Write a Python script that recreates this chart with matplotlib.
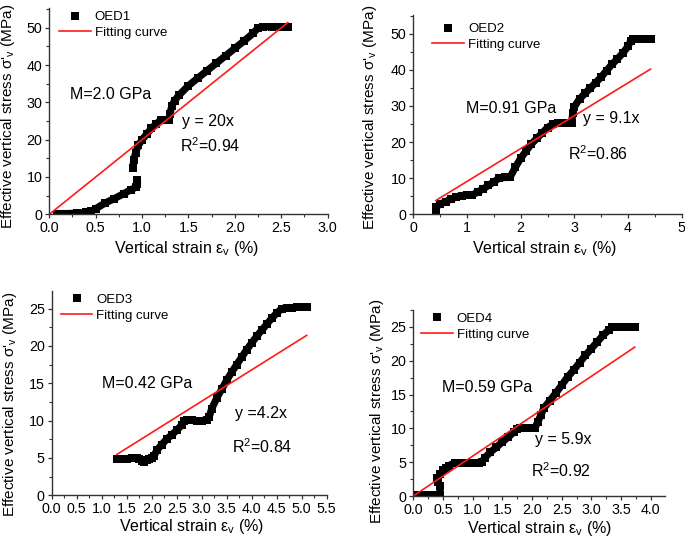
import numpy as np
import matplotlib
matplotlib.use("Agg")
import matplotlib.pyplot as plt
from matplotlib.ticker import MultipleLocator

plt.rcParams['font.family'] = ['Liberation Sans', 'DejaVu Sans']
plt.rcParams['mathtext.fontset'] = 'custom'
plt.rcParams['mathtext.rm'] = 'Liberation Sans'

nan = np.nan
# ---------------- data ----------------
x1 = [0.08, 0.2, 0.3, 0.4, 0.45, 0.5, 0.6, 0.7, 0.8, 0.88, 0.93, 0.95, 0.95, nan,
      0.9, 0.91, 0.93, 0.96, 1.0, 1.05, 1.1, 1.15, 1.2, 1.25, 1.29, 1.3, 1.32, 1.35,
      1.4, 1.5, 1.6, 1.7, 1.8, 1.9, 2.0, 2.1, 2.2, 2.25, 2.3, 2.4, 2.5, 2.57]
y1 = [0.2, 0.2, 0.3, 0.5, 0.8, 1.5, 3.0, 4.2, 5.5, 6.6, 7.2, 8.0, 9.2, nan,
      12.5, 14.5, 16.5, 18.5, 20.0, 21.5, 23.0, 24.2, 25.2, 25.2, 25.2, 27.0, 29.0, 30.5,
      32.0, 34.5, 36.5, 38.5, 40.5, 42.5, 44.5, 46.5, 48.6, 50.0, 50.3, 50.3, 50.3, 50.3]

x2 = [0.42, 0.42, 0.5, 0.6, 0.7, 0.8, 0.9, 1.0, 1.1, 1.2, 1.3, 1.4, 1.5, 1.6, 1.7, 1.8,
      1.9, 2.0, 2.1, 2.2, 2.3, 2.4, 2.5, 2.6, 2.7, 2.8, 2.9, 2.95, 2.97, 3.0, 3.1, 3.2,
      3.3, 3.4, 3.5, 3.6, 3.7, 3.8, 3.9, 4.0, 4.05, 4.1, 4.2, 4.3, 4.42]
y2 = [0.8, 2.0, 2.8, 3.5, 4.2, 4.8, 5.2, 5.3, 5.3, 6.2, 7.0, 8.0, 9.0, 10.0, 10.2, 10.2,
      13.0, 15.5, 17.5, 19.5, 21.0, 22.5, 24.0, 25.0, 25.2, 25.2, 25.2, 25.2, 28.0, 29.8, 32.0, 33.5,
      35.0, 36.5, 38.0, 39.8, 41.5, 43.0, 44.6, 46.5, 48.0, 48.5, 48.5, 48.5, 48.5]

x3 = [1.3, 1.4, 1.5, 1.6, 1.7, 1.75, 1.8, 1.85, 1.9, 1.95, 2.0, 2.05, 2.1, 2.2, 2.3, 2.4,
      2.5, 2.6, 2.65, 2.7, 2.8, 2.9, 3.0, 3.1, 3.15, 3.2, 3.3, 3.4, 3.5, 3.6, 3.7, 3.8,
      3.9, 4.0, 4.1, 4.2, 4.3, 4.4, 4.5, 4.6, 4.7, 4.8, 4.9, 5.0, 5.1]
y3 = [4.8, 4.85, 4.9, 5.0, 5.0, 4.9, 4.6, 4.4, 4.7, 4.8, 5.0, 5.3, 6.0, 6.8, 7.5, 8.1,
      8.7, 9.4, 9.9, 10.1, 10.1, 10.0, 10.0, 10.1, 10.5, 11.6, 13.0, 14.2, 15.4, 16.5, 17.5, 18.5,
      19.5, 20.4, 21.3, 22.1, 22.9, 23.7, 24.4, 25.0, 25.1, 25.1, 25.2, 25.2, 25.2]

x4 = [0.08, 0.2, 0.3, 0.4, 0.45, 0.45, 0.42, 0.4, 0.45, 0.5, 0.55, 0.6, 0.7, 0.8, 0.9, 1.0,
      1.1, 1.15, 1.2, 1.3, 1.4, 1.5, 1.6, 1.7, 1.75, 1.8, 1.9, 2.0, 2.05, 2.1, 2.15, 2.2,
      2.3, 2.4, 2.5, 2.6, 2.7, 2.8, 2.9, 3.0, 3.1, 3.2, 3.3, 3.35, 3.4, 3.5, 3.6, 3.73]
y4 = [0.1, 0.1, 0.1, 0.1, 0.2, 1.5, 2.0, 2.6, 3.2, 3.8, 4.2, 4.5, 4.9, 4.9, 4.9, 4.9,
      4.9, 5.0, 5.6, 6.5, 7.2, 8.0, 8.7, 9.5, 9.9, 10.0, 10.0, 10.0, 10.1, 11.0, 12.0, 13.0,
      14.1, 15.2, 16.4, 17.6, 18.6, 19.7, 20.8, 21.8, 22.8, 23.8, 24.6, 25.0, 25.0, 25.0, 25.0, 25.0]

names = ["OED1", "OED2", "OED3", "OED4"]
slopes = [20, 9.1, 4.2, 5.9]
fit_ranges = [(0.0, 2.57), (0.42, 4.42), (1.3, 5.1), (0.0, 3.73)]
moduli = ["M=2.0 GPa", "M=0.91 GPa", "M=0.42 GPa", "M=0.59 GPa"]
eq_texts = ["y = 20x", "y = 9.1x", "y =4.2x", "y = 5.9x"]
r2_vals = ["0.94", "0.86", "0.84", "0.92"]

# ---------------- layout / style ----------------
W, H = 685, 541
rects_px = [(49.3, 8, 327.7, 214.3), (413.3, 15, 681.7, 214.3),
            (51.7, 290.7, 326.7, 495.3), (413.3, 310, 665, 496)]
xlims = [(0, 3.0), (0, 5), (0, 5.5), (0, 4.24)]
ylims = [(0, 55.3), (0, 55.2), (0, 27.4), (0, 27.5)]
xmaj = [0.5, 1, 0.5, 0.5]
ymaj = [10, 10, 5, 5]
xfmt = ["%.1f", "%d", "%.1f", "%.1f"]
m_pos = [(0.22, 32.2), (0.99, 29.4), (1.0, 15.0), (0.48, 16.0)]
eq_pos = [(1.43, 24.8), (3.16, 26.6), (3.67, 10.9), (2.05, 8.3)]
r2_pos = [(1.41, 18.4), (2.88, 16.9), (3.6, 6.5), (1.99, 3.7)]
leg_anchor = [(0.035, 0.985), (0.071, 0.96), (0.033, 0.985), (0.031, 0.985)]
ylab_xy = [(-0.150, 0.476), (-0.161, 0.488), (-0.152, 0.446), (-0.145, 0.453)]
xlab_xy = [(0.494, -0.165), (0.488, -0.171), (0.509, -0.153), (0.5, -0.174)]

xs = [x1, x2, x3, x4]
ys = [y1, y2, y3, y4]

fig = plt.figure(figsize=(W / 100, H / 100), dpi=100)

for i in range(4):
    l, t, r, b = rects_px[i]
    ax = fig.add_axes([l / W, (H - b) / H, (r - l) / W, (b - t) / H])
    x = np.array(xs[i], dtype=float)
    y = np.array(ys[i], dtype=float)
    ax.plot(x, y, '-', color='black', lw=5.2, solid_joinstyle='round', solid_capstyle='butt')
    ax.plot(x, y, 's', color='black', ms=5.4, mew=0, label=names[i])
    xf = np.array(fit_ranges[i])
    ax.plot(xf, slopes[i] * xf, '-', color='#ff1a1a', lw=1.2, label='Fitting curve')

    ax.set_xlim(*xlims[i])
    ax.set_ylim(*ylims[i])
    ax.xaxis.set_major_locator(MultipleLocator(xmaj[i]))
    ax.xaxis.set_minor_locator(MultipleLocator(xmaj[i] / 2))
    ax.yaxis.set_major_locator(MultipleLocator(ymaj[i]))
    ax.yaxis.set_minor_locator(MultipleLocator(ymaj[i] / 2))
    ax.xaxis.set_major_formatter(plt.FormatStrFormatter(xfmt[i]))
    for s in ['top', 'right']:
        ax.spines[s].set_visible(False)
    for s in ['left', 'bottom']:
        ax.spines[s].set_linewidth(1.0)
        ax.spines[s].set_color('#333333')
    ax.tick_params(axis='both', which='major', direction='out', length=3, width=0.9,
                   labelsize=10.3, pad=2, colors='#333333', labelcolor='black')
    ax.tick_params(axis='both', which='minor', direction='out', length=2, width=0.8, colors='#333333')

    ax.set_ylabel("Effective vertical stress σ'$_\\mathregular{v}$ (MPa)", fontsize=11)
    ax.set_xlabel("Vertical strain ε$_\\mathregular{v}$ (%)", fontsize=11.5)
    ax.yaxis.set_label_coords(*ylab_xy[i])
    ax.xaxis.set_label_coords(*xlab_xy[i])
    ax.yaxis.label.set_va('center')
    ax.xaxis.label.set_va('center')

    ax.text(*m_pos[i], moduli[i], fontsize=11.5, ha='left', va='center')
    ax.text(*eq_pos[i], eq_texts[i], fontsize=11.5, ha='left', va='center')
    ax.text(*r2_pos[i], "R$^\\mathregular{2}$=" + r2_vals[i], fontsize=11.5, ha='left', va='center')

    ax.legend(loc='upper left', bbox_to_anchor=leg_anchor[i], frameon=False, fontsize=9.5,
              handlelength=2.4, handletextpad=0.3, labelspacing=0.25, borderpad=0,
              borderaxespad=0, markerscale=1.1)

fig.savefig("out.png", dpi=100)
